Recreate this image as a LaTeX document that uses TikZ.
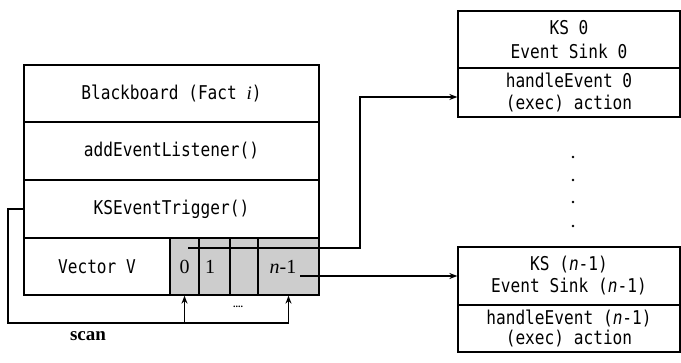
\documentclass[tikz,border=0pt]{standalone}
\usepackage{fontspec}
\setmainfont{Liberation Serif}
\newfontfamily\mono[FakeStretch=0.85,ItalicFont={DejaVu Sans Mono Oblique}]{DejaVu Sans Mono}
\usetikzlibrary{arrows.meta}
\definecolor{cellgray}{RGB}{205,205,205}
\begin{document}
\begin{tikzpicture}[x=1pt,y=-1pt,
  row/.style={draw, line width=1.3pt, inner sep=0pt, align=center,
    font=\mono\fontsize{19}{24}\selectfont},
  cell/.style={draw, line width=1.3pt, inner sep=0pt, fill=cellgray,
    minimum height=57pt, font=\fontsize{20}{22}\selectfont},
  conn/.style={line width=1.3pt},
  arr/.style={line width=1.3pt, -{Stealth[length=8pt,width=6pt]}}]
\useasboundingbox (0,0) rectangle (681,363);
% left block
\node[row, minimum width=295pt, minimum height=57pt] (bb) at (171.5,93.5) {Blackboard (Fact {\rmfamily\itshape i})};
\node[row, minimum width=295pt, minimum height=58pt] (ael) at (171.5,151) {addEventListener()};
\node[row, minimum width=295pt, minimum height=58pt] (kst) at (171.5,209) {KSEventTrigger()};
\node[row, minimum width=146pt, minimum height=57pt] (vec) at (97,266.5) {Vector V};
\node[cell, minimum width=29pt] (c0) at (184.5,266.5) {0};
\node[cell, minimum width=31pt] (c1) at (214.5,266.5) {\hspace*{-9pt}1};
\node[cell, minimum width=28pt] (c2) at (244,266.5) {};
\node[cell, minimum width=61pt] (c3) at (288.5,266.5) {\hspace*{-11pt}\textit{n}-1};
% right sinks
\node[row, minimum width=222pt, minimum height=57pt] (ks0) at (569,39.5) {KS 0\\Event Sink 0};
\node[row, minimum width=222pt, minimum height=49pt, font=\mono\fontsize{19}{22}\selectfont] (he0) at (569,92.5) {handleEvent 0\\(exec) action};
\node[row, minimum width=222pt, minimum height=58pt, font=\mono\fontsize{19}{22}\selectfont] (ksn) at (569,276) {KS (\textit{n}-1)\\Event Sink (\textit{n}-1)};
\node[row, minimum width=222pt, minimum height=47pt, font=\mono\fontsize{19}{20}\selectfont] (hen) at (569,328.5) {handleEvent (\textit{n}-1)\\(exec) action};
% vertical ellipsis
\foreach \yy in {157,180,202,226} \fill (573,\yy) circle (1.4pt);
% connectors from vector cells
\coordinate (p0) at (188,248);
\coordinate (t0) at (360,97);
\draw[arr] (p0) -- (p0 -| t0) -- (t0) -- (t0 -| he0.west);
\coordinate (p1) at (300,276);
\draw[arr] (p1) -- (p1 -| ksn.west);
% scan loop
\coordinate (sl) at (8,323);
\draw[conn] (kst.west) -| (sl) -- (c3.south |- sl);
\draw[arr] (c0.south |- sl) -- (c0.south);
\draw[arr] (c3.south |- sl) -- (c3.south);
\node[font=\bfseries\fontsize{10}{10}\selectfont] (dots) at (238,307) {....};
\node[font=\bfseries\fontsize{19}{20}\selectfont] (scan) at (88,336) {scan};
\end{tikzpicture}
\end{document}
